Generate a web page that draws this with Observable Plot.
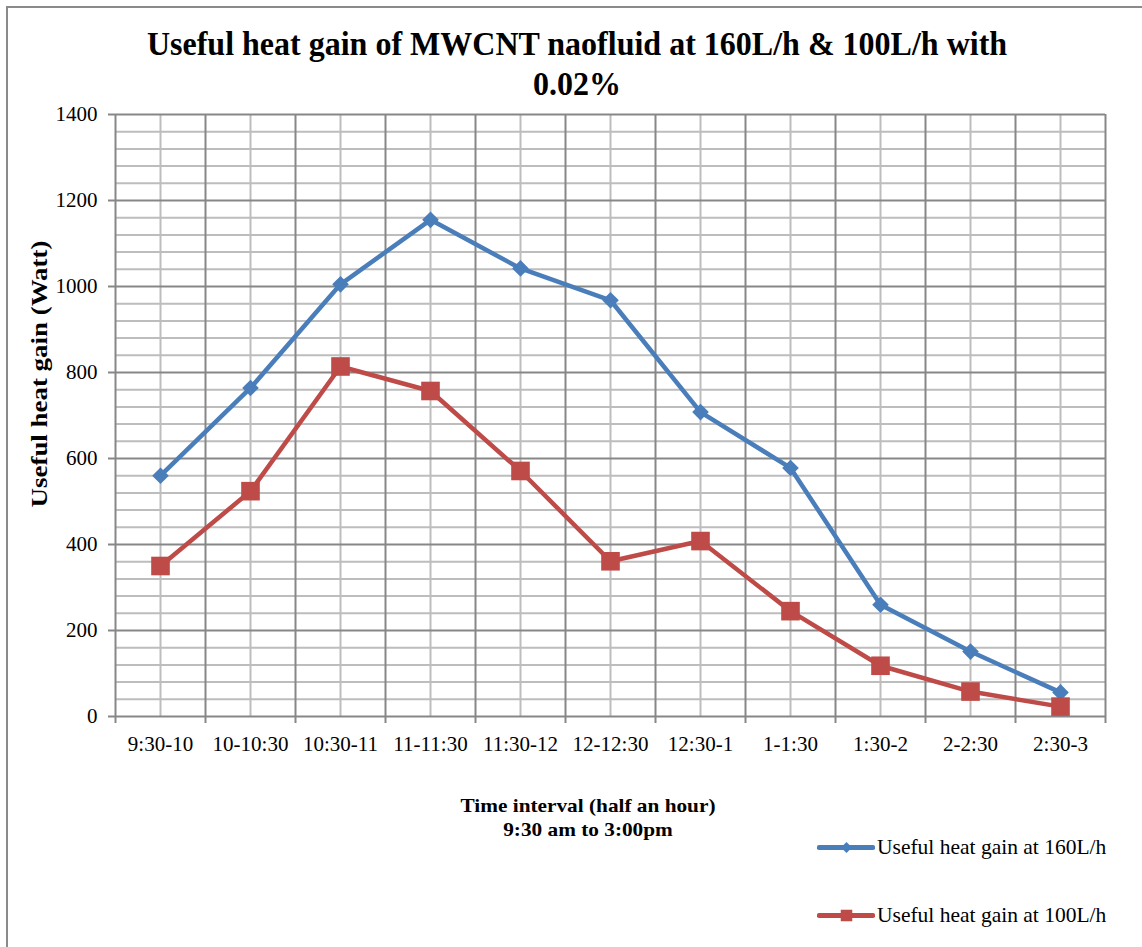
<!DOCTYPE html>
<html>
<head>
<meta charset="utf-8">
<script src="https://cdn.jsdelivr.net/npm/d3@7"></script>
<script src="https://cdn.jsdelivr.net/npm/@observablehq/plot@0.6"></script>
<style>
  html, body { margin: 0; padding: 0; background: #fff; overflow: hidden; }
  #wrap { position: relative; width: 1142px; height: 947px; overflow: hidden; font-family: "Liberation Serif", "Times New Roman", serif; color: #000; }
  #frame { position: absolute; left: 6px; top: 6px; width: 1300px; height: 1100px; border: 2px solid #8a8a8a; box-sizing: border-box; }
  #chart { position: absolute; left: 0; top: 0; }
  .t { position: absolute; white-space: nowrap; }
  #title { left: 577px; top: 24px; transform: translateX(-50%) scaleX(0.97); text-align: center; font-weight: bold; font-size: 33px; line-height: 40px; }
  #ylab { left: 40px; top: 374px; font-weight: bold; font-size: 23px; transform: translate(-50%, -50%) rotate(-90deg) scaleX(1.17); }
  #xlab { left: 588px; top: 794px; transform: translateX(-50%) scaleX(1.12); text-align: center; font-weight: bold; font-size: 19px; line-height: 24px; }
  .leg { position: absolute; left: 817px; display: flex; align-items: center; font-size: 21.5px; }
  .leg svg { display: block; }
</style>
</head>
<body>
<div id="wrap">
  <div id="frame"></div>
  <div id="chart"></div>
  <div class="t" id="title">Useful heat gain of MWCNT naofluid at 160L/h &amp; 100L/h with<br>0.02%</div>
  <div class="t" id="ylab">Useful heat gain (Watt)</div>
  <div class="t" id="xlab">Time interval (half an hour)<br>9:30 am to 3:00pm</div>
  <div class="leg" id="leg1" style="top:834px"></div>
  <div class="leg" id="leg2" style="top:902px"></div>
</div>
<script>
const categories = ["9:30-10", "10-10:30", "10:30-11", "11-11:30", "11:30-12", "12-12:30", "12:30-1", "1-1:30", "1:30-2", "2-2:30", "2:30-3"];
const gain160 = [560, 764, 1005, 1155, 1042, 968, 708, 578, 260, 151, 56];
const gain100 = [350, 524, 814, 757, 571, 361, 408, 245, 118, 58, 23];
const seriesNames = ["Useful heat gain at 160L/h", "Useful heat gain at 100L/h"];
const yTicks = [0, 200, 400, 600, 800, 1000, 1200, 1400];

const blue = "#4a7ebb";
const red = "#be4b48";
const majorGrid = "#878787";
const minorGrid = "#bdbdbd";

const idx = categories.map((c, i) => i);
const rows160 = categories.map((c, i) => ({x: i + 0.5, y: gain160[i]}));
const rows100 = categories.map((c, i) => ({x: i + 0.5, y: gain100[i]}));
const minorY = d3.range(0, 1401, 40).filter(v => v % 200 !== 0);
const boundaries = d3.range(0, categories.length + 1);
const centers = idx.map(i => i + 0.5);
const font = "'Liberation Serif', 'Times New Roman', serif";

const chart = Plot.plot({
  width: 1142,
  height: 947,
  marginLeft: 115,
  marginRight: 37,
  marginTop: 114,
  marginBottom: 231,
  style: {fontFamily: font, background: "transparent", overflow: "visible"},
  x: {type: "linear", domain: [0, categories.length], axis: null},
  y: {domain: [0, 1400], axis: null},
  marks: [
    Plot.ruleY(minorY, {stroke: minorGrid, strokeWidth: 2}),
    Plot.ruleX(centers, {stroke: minorGrid, strokeWidth: 2}),
    Plot.ruleY(yTicks, {stroke: majorGrid, strokeWidth: 2}),
    Plot.ruleX(boundaries, {stroke: majorGrid, strokeWidth: 2}),
    Plot.axisY({ticks: yTicks, tickSize: 7, tickPadding: 11, stroke: majorGrid, strokeWidth: 2, fontSize: 21, fontFamily: font, label: null, tickFormat: d => String(d)}),
    Plot.axisX({ticks: boundaries, tickSize: 7, stroke: majorGrid, strokeWidth: 2, tickFormat: () => "", label: null}),
    Plot.axisX({ticks: centers, tickSize: 0, tickPadding: 20, fontSize: 21, fontFamily: font, label: null, tickFormat: d => categories[Math.round(d - 0.5)]}),
    Plot.line(rows160, {x: "x", y: "y", stroke: blue, strokeWidth: 4.5}),
    Plot.line(rows100, {x: "x", y: "y", stroke: red, strokeWidth: 4.5}),
    Plot.dot(rows160, {x: "x", y: "y", symbol: "diamond2", r: 7.5, fill: blue}),
    Plot.dot(rows100, {x: "x", y: "y", symbol: "square", r: 10.5, fill: red})
  ]
});
document.getElementById("chart").appendChild(chart);

function legendItem(el, color, symbol, r, name) {
  const sw = Plot.plot({
    width: 58, height: 26, margin: 0,
    x: {domain: [0, 1], axis: null}, y: {domain: [0, 1], axis: null},
    style: {background: "transparent"},
    marks: [
      Plot.ruleY([0.5], {x1: 0.04, x2: 0.96, stroke: color, strokeWidth: 5, strokeLinecap: "round"}),
      Plot.dot([{x: 0.5, y: 0.5}], {x: "x", y: "y", symbol, r, fill: color})
    ]
  });
  el.appendChild(sw);
  const s = document.createElement("span");
  s.textContent = name;
  s.style.marginLeft = "2px";
  el.appendChild(s);
}
legendItem(document.getElementById("leg1"), blue, "diamond2", 5, seriesNames[0]);
legendItem(document.getElementById("leg2"), red, "square", 6.5, seriesNames[1]);
</script>
</body>
</html>
